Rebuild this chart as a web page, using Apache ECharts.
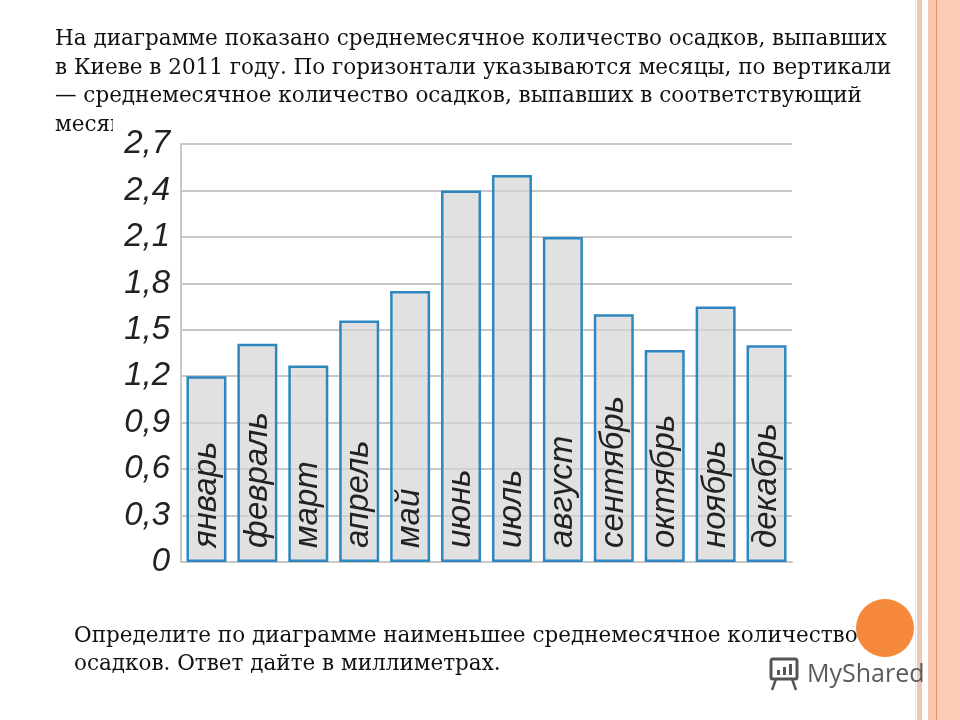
<!DOCTYPE html>
<html><head><meta charset="utf-8">
<script src="https://cdn.jsdelivr.net/npm/echarts@6/dist/echarts.min.js"></script>
<style>html,body{margin:0;padding:0;background:#fff}#c{width:960px;height:720px}</style>
</head><body><div id="c"></div>
<script>
const months = ['январь','февраль','март','апрель','май','июнь','июль','август','сентябрь','октябрь','ноябрь','декабрь'];
const precipitation = [1.2, 1.41, 1.27, 1.56, 1.75, 2.4, 2.5, 2.1, 1.6, 1.37, 1.65, 1.4];
const yTicks = {min: 0, max: 2.7, interval: 0.3};
const topText = [
  'На диаграмме показано среднемесячное количество осадков, выпавших',
  'в Киеве в 2011 году. По горизонтали указываются месяцы, по вертикали',
  '— среднемесячное количество осадков, выпавших в соответствующий',
  'месяц.'
];
const bottomText = [
  'Определите по диаграмме наименьшее среднемесячное количество',
  'осадков. Ответ дайте в миллиметрах.'
];
const logoText = 'MyShared';

const chart = echarts.init(document.getElementById('c'), null, {renderer: 'canvas'});
const serif = '"DejaVu Serif", serif';
const fs = 21.5;
const graphics = [];
topText.forEach((t, i) => graphics.push({type: 'text', z: 0, style: {text: t, x: 55, y: 46 + i * 28.6 - 0.3 * fs, fontSize: fs, fontFamily: serif, fill: '#111', verticalAlign: 'middle'}}));
graphics.push({type: 'rect', z: 1, shape: {x: 113, y: 108, width: 690, height: 28}, style: {fill: '#fff'}});
bottomText.forEach((t, i) => graphics.push({type: 'text', z: 0, style: {text: t, x: 74, y: 643 + i * 28 - 0.3 * fs, fontSize: fs, fontFamily: serif, fill: '#111', verticalAlign: 'middle'}}));
// right decorative border
graphics.push({type: 'rect', z: 2, shape: {x: 915, y: 0, width: 1, height: 720}, style: {fill: '#eee2dc'}});
graphics.push({type: 'rect', z: 2, shape: {x: 917, y: 0, width: 5, height: 720}, style: {fill: '#f2c6b4'}});
graphics.push({type: 'rect', z: 2, shape: {x: 928, y: 0, width: 8, height: 720}, style: {fill: '#f8c8b3'}});
graphics.push({type: 'rect', z: 2, shape: {x: 936, y: 0, width: 1.5, height: 720}, style: {fill: '#e3956a'}});
graphics.push({type: 'rect', z: 2, shape: {x: 937.5, y: 0, width: 23, height: 720}, style: {fill: '#fbcdb6'}});
graphics.push({type: 'circle', z: 3, shape: {cx: 885, cy: 628, r: 29}, style: {fill: '#f5883a'}});
// logo
graphics.push({type: 'rect', z: 3, shape: {x: 771, y: 659, width: 26, height: 20, r: 2}, style: {fill: 'none', stroke: '#555', lineWidth: 3}});
graphics.push({type: 'rect', z: 3, shape: {x: 777, y: 670, width: 3, height: 5}, style: {fill: '#555'}});
graphics.push({type: 'rect', z: 3, shape: {x: 783, y: 667, width: 3, height: 8}, style: {fill: '#555'}});
graphics.push({type: 'rect', z: 3, shape: {x: 789, y: 664, width: 3, height: 11}, style: {fill: '#555'}});
graphics.push({type: 'polyline', z: 3, shape: {points: [[776, 679], [772, 690]]}, style: {stroke: '#555', lineWidth: 2.5}});
graphics.push({type: 'polyline', z: 3, shape: {points: [[792, 679], [796, 690]]}, style: {stroke: '#555', lineWidth: 2.5}});
graphics.push({type: 'text', z: 3, style: {text: logoText, x: 807, y: 675, fontSize: 25, fontFamily: '"Open Sans", sans-serif', fill: '#5b5b5b', verticalAlign: 'middle'}});

chart.setOption({
  animation: false,
  backgroundColor: '#fff',
  graphic: graphics,
  grid: {left: 181, right: 168, top: 144, bottom: 158},
  xAxis: {
    type: 'category', data: months, z: 5,
    axisLine: {show: true, lineStyle: {color: '#c8c8c8', width: 2}},
    axisTick: {show: false}, axisLabel: {show: false}
  },
  yAxis: {
    type: 'value', min: yTicks.min, max: yTicks.max, interval: yTicks.interval, z: 5,
    axisLine: {show: true, lineStyle: {color: '#c8c8c8', width: 2}},
    axisTick: {show: false},
    splitLine: {lineStyle: {color: '#c8c8c8', width: 2}},
    axisLabel: {
      margin: 11, fontSize: 33, fontStyle: 'italic', fontFamily: '"Liberation Sans", Arial, sans-serif', color: '#222',
      padding: [0, 0, 6, 0],
      formatter: v => v === 0 ? '0' : v.toFixed(1).replace('.', ',')
    }
  },
  series: [{
    type: 'bar', data: precipitation, barWidth: 40, z: 10,
    itemStyle: {color: 'rgba(212,212,212,0.7)', borderColor: '#2e88bf', borderWidth: 2.5},
    label: {
      show: true, position: 'insideBottom', rotate: 90, align: 'left', verticalAlign: 'middle', distance: 14,
      formatter: p => months[p.dataIndex],
      fontSize: 33, fontStyle: 'italic', fontFamily: '"Liberation Sans", Arial, sans-serif', color: '#222'
    }
  }]
});
</script></body></html>
